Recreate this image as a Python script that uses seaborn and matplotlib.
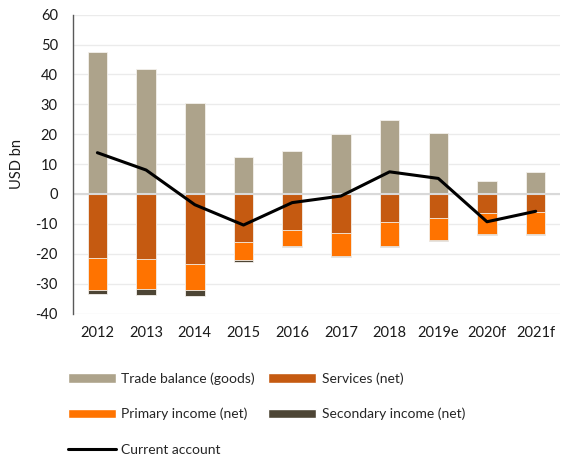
import numpy as np
import pandas as pd
import matplotlib
matplotlib.use("Agg")
import matplotlib.pyplot as plt
import seaborn as sns
from matplotlib.patches import Patch
from matplotlib.lines import Line2D

years = ["2012", "2013", "2014", "2015", "2016", "2017", "2018", "2019e", "2020f", "2021f"]
trade_goods = [47.4, 41.8, 30.4, 12.3, 14.3, 20.0, 24.9, 20.5, 4.2, 7.5]
services = [-21.5, -21.8, -23.4, -16.1, -12.0, -12.9, -9.4, -7.9, -6.3, -6.1]
primary_income = [-10.5, -10.0, -8.9, -6.1, -5.4, -7.7, -8.1, -7.5, -7.2, -7.4]
secondary_income = [-1.5, -2.1, -2.0, -0.7, -0.3, -0.4, -0.2, -0.2, -0.2, -0.2]
current_account = [13.8, 8.0, -3.6, -10.4, -2.9, -0.7, 7.4, 5.2, -9.3, -5.8]

c_trade = "#ADA38B"
c_serv = "#C55A11"
c_prim = "#FF7300"
c_sec = "#4D4535"

sns.set_theme(style="white")
plt.rcParams["font.family"] = ["Lato", "DejaVu Sans"]
plt.rcParams["axes.unicode_minus"] = False

df = pd.DataFrame({
    "year": years,
    "trade": trade_goods,
    "serv": services,
    "prim": primary_income,
    "sec": secondary_income,
    "ca": current_account,
})
# cumulative depths for the negative stack
df["serv_prim"] = df["serv"] + df["prim"]
df["serv_prim_sec"] = df["serv_prim"] + df["sec"]

fig = plt.figure(figsize=(5.62, 4.57), dpi=100)
ax = fig.add_axes([0.130, 0.314, 0.8665, 0.654])

ax.set_axisbelow(True)
ax.yaxis.grid(True, color="#EBEBEB", linewidth=1.0)

bar_kw = dict(width=0.4, edgecolor="#F4F1EC", linewidth=0.6, ax=ax)
sns.barplot(data=df, x="year", y="trade", color=c_trade, saturation=1, **bar_kw)
sns.barplot(data=df, x="year", y="serv_prim_sec", color=c_sec, saturation=1, **bar_kw)
sns.barplot(data=df, x="year", y="serv_prim", color=c_prim, saturation=1, **bar_kw)
sns.barplot(data=df, x="year", y="serv", color=c_serv, saturation=1, **bar_kw)

ax.axhline(0, color="#D9D9D9", linewidth=1.5, zorder=2.5)

sns.lineplot(x=np.arange(len(years)), y=df["ca"], color="black", linewidth=2.2, ax=ax, zorder=4)

ax.set_ylim(-40, 60)
ax.set_xlim(-0.5, len(years) - 0.5)
ax.set_yticks(np.arange(-40, 61, 10))
ax.set_xticks(np.arange(len(years)))
ax.set_xticklabels(years)
ax.tick_params(axis="both", length=0, labelsize=10.5, colors="#1A1A1A")
ax.tick_params(axis="y", pad=11)
ax.tick_params(axis="x", pad=9)
ax.set_xlabel("")
ax.set_ylabel("USD bn", fontsize=10.5, color="#1A1A1A", labelpad=8)

for s in ["top", "right", "bottom"]:
    ax.spines[s].set_visible(False)
ax.spines["left"].set_color("#595959")
ax.spines["left"].set_linewidth(1.0)

h_trade = Patch(facecolor=c_trade, label="Trade balance (goods)")
h_serv = Patch(facecolor=c_serv, label="Services (net)")
h_prim = Patch(facecolor=c_prim, label="Primary income (net)")
h_sec = Patch(facecolor=c_sec, label="Secondary income (net)")
h_ca = Line2D([0], [0], color="black", linewidth=2.2, label="Current account")
# legend fills column by column, so list the left column first
handles = [h_trade, h_prim, h_ca, h_serv, h_sec]
fig.legend(handles=handles, ncol=2, loc="upper left",
           bbox_to_anchor=(0.121, 0.186), frameon=False, fontsize=10,
           handlelength=3.45, handleheight=0.7, handletextpad=0.4,
           columnspacing=0.95, labelspacing=1.68, borderpad=0, borderaxespad=0)

fig.savefig("out.png", dpi=100)
